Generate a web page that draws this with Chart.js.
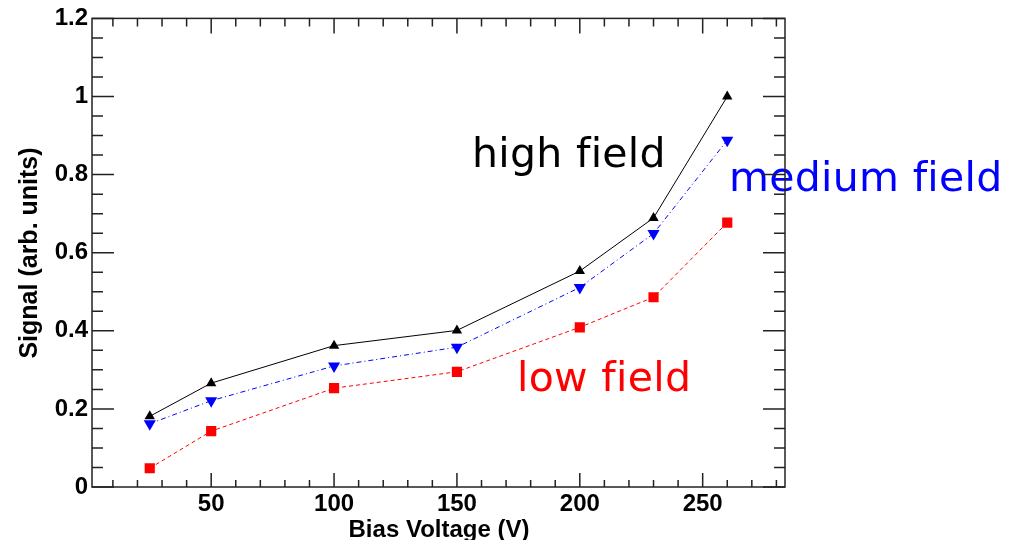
<!DOCTYPE html>
<html>
<head>
<meta charset="utf-8">
<script src="https://cdn.jsdelivr.net/npm/chart.js@4/dist/chart.umd.min.js"></script>
<style>
html,body{margin:0;padding:0;background:#fff;}
#wrap{width:1020px;height:540px;position:relative;}
canvas{font-variant-ligatures:none;}
</style>
</head>
<body>
<div id="wrap"><canvas id="c"></canvas></div>
<script>
const biasVoltage = [25, 50, 100, 150, 200, 230, 260];
const highField   = [0.181, 0.266, 0.362, 0.401, 0.553, 0.689, 1.000];
const mediumField = [0.162, 0.221, 0.310, 0.358, 0.511, 0.649, 0.888];
const lowField    = [0.048, 0.143, 0.253, 0.295, 0.409, 0.486, 0.677];
const xTickLabels = [50, 100, 150, 200, 250];
const yTickLabels = [0, 0.2, 0.4, 0.6, 0.8, 1, 1.2];
const xMinorTicks = [10,20,30,40,60,70,80,90,110,120,130,140,160,170,180,190,210,220,230,240,260,270,280];
const yMinorTicks = [0.05,0.1,0.15,0.25,0.3,0.35,0.45,0.5,0.55,0.65,0.7,0.75,0.85,0.9,0.95,1.05,1.1,1.15];
const seriesNames = ['high field', 'medium field', 'low field'];

const pts = arr => biasVoltage.map((x, i) => ({x: x, y: arr[i]}));

const framePlugin = {
  id: 'frame',
  afterDatasetsDraw(chart) {
    const ctx = chart.ctx;
    ctx.save();
    ctx.font = '41px "DejaVu Sans"';
    if ('letterSpacing' in ctx) ctx.letterSpacing = '0.3px';
    ctx.textBaseline = 'alphabetic';
    ctx.textAlign = 'left';
    ctx.fillStyle = '#000000';
    ctx.fillText(seriesNames[0], 472, 167);
    ctx.fillStyle = '#0000ff';
    ctx.fillText(seriesNames[1], 729, 191);
    ctx.fillStyle = '#ff0000';
    ctx.fillText(seriesNames[2], 517, 391);
    ctx.restore();
  },
  afterDraw(chart) {
    const ctx = chart.ctx;
    const a = chart.chartArea;
    const xs = chart.scales.x, ys = chart.scales.y;
    ctx.save();
    ctx.strokeStyle = '#222';
    ctx.lineWidth = 1.5;
    ctx.strokeRect(a.left, a.top, a.right - a.left, a.bottom - a.top);
    ctx.beginPath();
    xTickLabels.forEach(v => {
      const p = xs.getPixelForValue(v);
      ctx.moveTo(p, a.bottom); ctx.lineTo(p, a.bottom - 14);
      ctx.moveTo(p, a.top); ctx.lineTo(p, a.top + 15);
    });
    xMinorTicks.forEach(v => {
      const p = xs.getPixelForValue(v);
      ctx.moveTo(p, a.bottom); ctx.lineTo(p, a.bottom - 7);
      ctx.moveTo(p, a.top); ctx.lineTo(p, a.top + 8);
    });
    yTickLabels.forEach(v => {
      const p = ys.getPixelForValue(v);
      ctx.moveTo(a.left, p); ctx.lineTo(a.left + 22, p);
      ctx.moveTo(a.right, p); ctx.lineTo(a.right - 22, p);
    });
    yMinorTicks.forEach(v => {
      const p = ys.getPixelForValue(v);
      ctx.moveTo(a.left, p); ctx.lineTo(a.left + 11, p);
      ctx.moveTo(a.right, p); ctx.lineTo(a.right - 11, p);
    });
    ctx.stroke();
    ctx.fillStyle = '#000';
    ctx.font = 'bold 24px "Liberation Sans"';
    ctx.textAlign = 'center';
    ctx.textBaseline = 'alphabetic';
    ctx.fillText('Bias Voltage (V)', 439, 537);
    ctx.font = 'bold 25px "Liberation Sans"';
    ctx.translate(37, 253);
    ctx.rotate(-Math.PI / 2);
    ctx.fillText('Signal (arb. units)', 0, 0);
    ctx.restore();
  }
};

new Chart(document.getElementById('c'), {
  type: 'scatter',
  data: {
    datasets: [
      {
        label: seriesNames[0], data: pts(highField), showLine: true,
        borderColor: '#000000', backgroundColor: '#000000', borderWidth: 1,
        pointStyle: 'triangle', pointRadius: 6, pointBorderWidth: 0
      },
      {
        label: seriesNames[1], data: pts(mediumField), showLine: true,
        borderColor: '#0000ff', backgroundColor: '#0000ff', borderWidth: 1,
        borderDash: [5, 3, 1, 3],
        pointStyle: 'triangle', pointRotation: 180, pointRadius: 7, pointBorderWidth: 0
      },
      {
        label: seriesNames[2], data: pts(lowField), showLine: true,
        borderColor: '#ff0000', backgroundColor: '#ff0000', borderWidth: 1,
        borderDash: [4, 3],
        pointStyle: 'rect', pointRadius: 7.2, pointBorderWidth: 0
      }
    ]
  },
  options: {
    responsive: true,
    maintainAspectRatio: false,
    animation: false,
    layout: {padding: {left: 0, top: 17, right: 235, bottom: 0}},
    plugins: {legend: {display: false}, tooltip: {enabled: false}},
    scales: {
      x: {
        type: 'linear', min: 1.5, max: 283.5,
        grid: {display: false, drawTicks: false},
        border: {display: false},
        afterBuildTicks: s => { s.ticks = xTickLabels.map(v => ({value: v})); },
        afterFit: s => { s.height = 53; },
        ticks: {
          color: '#000', padding: 3, maxRotation: 0, autoSkip: false,
          font: {family: '"Liberation Sans"', size: 24, weight: 'bold'},
          callback: v => String(v)
        }
      },
      y: {
        type: 'linear', min: 0, max: 1.2,
        grid: {display: false, drawTicks: false},
        border: {display: false},
        afterBuildTicks: s => { s.ticks = yTickLabels.map(v => ({value: v})); },
        afterFit: s => { s.width = 92; },
        ticks: {
          color: '#000', padding: 4, autoSkip: false,
          font: {family: '"Liberation Sans"', size: 24, weight: 'bold'},
          callback: v => String(Math.round(v * 10) / 10)
        }
      }
    }
  },
  plugins: [framePlugin]
});
</script>
</body>
</html>
